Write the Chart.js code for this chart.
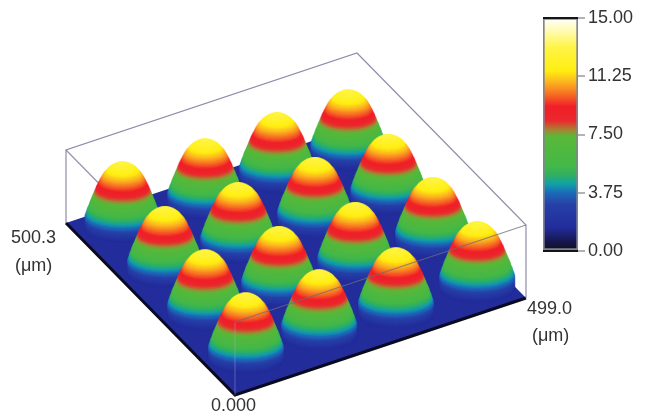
<!DOCTYPE html>
<html>
<head>
<meta charset="utf-8">
<title>Microlens profile</title>
<script src="https://cdn.jsdelivr.net/npm/chart.js@4"></script>
<style>
    html, body { margin: 0; padding: 0; background: #fff; }
    #wrap { position: relative; width: 646px; height: 416px; overflow: hidden; }
    #surfaceCanvas { position: absolute; left: 0; top: 0; filter: blur(0.7px); }
    #barCanvas { position: absolute; left: 530px; top: 0; filter: blur(0.3px); }
    .lbl { position: absolute; font: 18px "Liberation Sans", Arial, sans-serif; color: #333; white-space: nowrap; }
</style>
</head>
<body>
<div id="wrap">
    <canvas id="surfaceCanvas" width="646" height="416"></canvas>
    <canvas id="barCanvas" width="116" height="270"></canvas>
    <span class="lbl" style="left:11px;top:227px">500.3</span>
    <span class="lbl" style="left:15px;top:255px">(μm)</span>
    <span class="lbl" style="left:211px;top:395px">0.000</span>
    <span class="lbl" style="left:527px;top:298px">499.0</span>
    <span class="lbl" style="left:532px;top:325px">(μm)</span>
</div>
<script>
// box size in um, height on the colour scale
var boxX = 499.0;
var boxY = 500.3;
var boxZ = 15;

// lens centres (um), back row first
var lensX = [69, 205, 331, 452, 67, 192, 323, 447, 64, 189, 318, 450, 62, 186, 313, 451];
var lensY = [452, 442, 447, 445, 323, 322, 321, 318, 199, 196, 193, 191, 75, 72, 64, 62];
var lensPeak = 13;

// lens profile: height against radius (um)
var profileZ = [1.5, 1.75, 2, 2.25, 2.5, 2.75, 3, 3.25, 3.5, 3.75, 4, 4.25, 4.5, 4.75, 5, 5.25, 5.5, 5.75, 6, 6.25, 6.5, 6.75, 7, 7.25, 7.5, 7.75, 8, 8.25, 8.5, 8.75, 9, 9.25, 9.5, 9.75, 10, 10.25, 10.5, 10.75, 11, 11.25, 11.5, 11.75, 12, 12.25, 12.5, 12.75, 13];
var profileR = [56, 56, 56, 56, 56, 56, 56, 56, 56, 55.9, 55.2, 54.5, 53.7, 53, 52.2, 51.3, 50.5, 49.7, 49, 48.1, 47.2, 46.3, 45.4, 44.5, 43.6, 42.7, 41.8, 41, 40.1, 39.2, 38.1, 37.1, 35.9, 34.9, 33.8, 32.8, 31.6, 30.2, 28.8, 27, 25.3, 23.5, 21.5, 19, 16, 12, 5];

// colour scale
var scaleTicks = [0, 3.75, 7.5, 11.25, 15];
var stopZ = [0, 0.6, 1.5, 3, 3.75, 4.3, 4.9, 5.5, 7.4, 7.8, 8.4, 9.3, 10.2, 11, 11.6, 13.1, 14, 15];
var stopRGB = [
    [16, 16, 24], [22, 22, 78], [34, 44, 155], [38, 64, 168], [28, 106, 184], [16, 160, 168], [48, 176, 96],
    [68, 184, 72], [90, 184, 56], [168, 130, 50], [235, 40, 45], [240, 30, 40], [248, 120, 35],
    [252, 190, 30], [255, 238, 16], [255, 244, 70], [255, 250, 160], [255, 255, 255]
];

function colourAt(z) {
    var i = 0;
    while (i < stopZ.length - 2 && z > stopZ[i + 1]) i++;
    var t = (z - stopZ[i]) / (stopZ[i + 1] - stopZ[i]);
    t = Math.max(0, Math.min(1, t));
    var a = stopRGB[i], b = stopRGB[i + 1];
    return 'rgb(' + Math.round(a[0] + (b[0] - a[0]) * t) + ',' + Math.round(a[1] + (b[1] - a[1]) * t) + ',' + Math.round(a[2] + (b[2] - a[2]) * t) + ')';
}

// oblique view of the box
function project(x, y, z) {
    return {
        x: 235 + x * 291 / boxX - y * 169 / boxY,
        y: 395 - x * 97 / boxX - y * 172 / boxY - z * 73 / boxZ
    };
}

// a level of the lens is a flat ellipse, the picture stretches the lens height
var ringCache = {};
function ringImage(radius, colour) {
    var key = radius + colour;
    if (ringCache[key]) return ringCache[key];
    var rx = radius * 0.674, ry = radius * 0.24;
    var c = document.createElement('canvas');
    c.width = Math.ceil(rx * 2) + 4;
    c.height = Math.ceil(ry * 2) + 4;
    var g = c.getContext('2d');
    g.fillStyle = colour;
    g.beginPath();
    g.ellipse(c.width / 2, c.height / 2, rx, ry, 0, 0, Math.PI * 2);
    g.fill();
    ringCache[key] = c;
    return c;
}

function corners(list) {
    return list.map(function(p) { return project(p[0], p[1], p[2]); });
}

function wire(list, colour, order) {
    return {
        data: corners(list),
        showLine: true,
        borderColor: colour,
        borderWidth: 1.2,
        pointRadius: 0,
        fill: false,
        order: order
    };
}

var datasets = [];

// floor
datasets.push({
    data: corners([[0, 0, 0], [boxX, 0, 0], [boxX, boxY, 0], [0, boxY, 0], [0, 0, 0]]),
    showLine: true,
    borderWidth: 0,
    backgroundColor: 'rgb(34,44,155)',
    fill: 'shape',
    pointRadius: 0,
    order: 3000
});
// dark front edge of the floor
datasets.push({
    data: corners([[0, boxY, 0], [0, 0, 0], [boxX, 0, 0]]),
    showLine: true,
    borderColor: '#0a0a20',
    borderWidth: 3,
    pointRadius: 0,
    fill: false,
    order: 2900
});
// box edges behind the lenses
datasets.push(wire([[0, boxY, 0], [0, boxY, boxZ], [boxX, boxY, boxZ], [boxX, 0, boxZ], [boxX, 0, 0]], 'rgba(130,130,160,0.9)', 2800));
datasets.push(wire([[0, boxY, boxZ], [0, 0, boxZ]], 'rgba(120,120,150,0.8)', 2800));

lensX.forEach(function(lx, n) {
    var ly = lensY[n];
    var base = project(lx, ly, 0);
    datasets.push({
        data: profileZ.map(function(z, k) {
            var p = project(lx, ly, lensPeak - (lensPeak - z) * 1.18);
            return { x: p.x, y: p.y, r: profileR[k], z: z };
        }),
        showLine: false,
        pointRadius: 5,
        pointStyle: function(ctx) {
            var d = ctx.raw;
            return d ? ringImage(d.r, colourAt(d.z)) : 'circle';
        },
        order: 1500 - Math.round(base.y)
    });
});

// box edges in front of the lenses
datasets.push(wire([[0, 0, boxZ], [boxX, 0, boxZ]], 'rgba(110,110,120,0.75)', 2));
datasets.push(wire([[0, 0, 0], [0, 0, boxZ]], 'rgba(170,170,220,0.35)', 2));

new Chart(document.getElementById('surfaceCanvas').getContext('2d'), {
    type: 'scatter',
    data: { datasets: datasets },
    options: {
        responsive: false,
        animation: false,
        events: [],
        clip: false,
        layout: { padding: 0, autoPadding: false },
        plugins: { legend: { display: false }, tooltip: { enabled: false } },
        scales: {
            x: { type: 'linear', min: 0, max: 646, display: false },
            y: { type: 'linear', min: 0, max: 416, reverse: true, display: false }
        }
    }
});

// colour bar
new Chart(document.getElementById('barCanvas').getContext('2d'), {
    type: 'bar',
    data: {
        labels: ['height'],
        datasets: [{
            data: [[0, boxZ]],
            barPercentage: 1,
            categoryPercentage: 1,
            borderWidth: 2,
            borderColor: '#84848f',
            borderSkipped: false,
            backgroundColor: function(ctx) {
                var area = ctx.chart.chartArea;
                if (!area) return '#888';
                var g = ctx.chart.ctx.createLinearGradient(0, area.bottom, 0, area.top);
                stopZ.forEach(function(z) { g.addColorStop(z / boxZ, colourAt(z)); });
                return g;
            }
        }]
    },
    options: {
        responsive: false,
        animation: false,
        events: [],
        layout: { padding: { left: 13, top: 18, bottom: 19, right: 0 }, autoPadding: false },
        plugins: { legend: { display: false }, tooltip: { enabled: false } },
        scales: {
            x: { display: false },
            y: {
                position: 'right',
                min: 0,
                max: boxZ,
                afterBuildTicks: function(axis) {
                    axis.ticks = scaleTicks.map(function(v) { return { value: v }; });
                },
                afterFit: function(axis) { axis.width = 68; },
                border: { display: false },
                grid: {
                    z: 1,
                    lineWidth: 2,
                    color: function(ctx) {
                        return (ctx.tick && (ctx.tick.value === 0 || ctx.tick.value === boxZ)) ? '#14141c' : 'rgba(0,0,0,0)';
                    },
                    tickLength: 7,
                    tickWidth: 1,
                    tickColor: '#666'
                },
                ticks: {
                    padding: 3,
                    color: '#333',
                    font: { family: '"Liberation Sans", Arial, sans-serif', size: 18 },
                    callback: function(v) { return v.toFixed(2); }
                }
            }
        }
    }
});
</script>
</body>
</html>
